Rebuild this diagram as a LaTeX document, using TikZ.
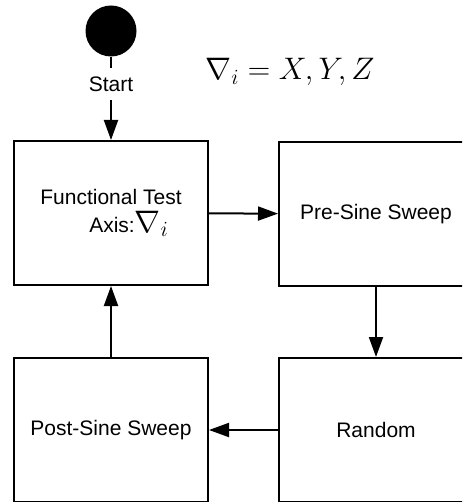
\documentclass[tikz,border=0pt]{standalone}
\usepackage{graphicx}
\usepackage{fontspec}
\setmainfont{Liberation Sans}
\usetikzlibrary{arrows.meta}

\begin{document}
\begin{tikzpicture}[x=1pt, y=-1pt, line width=2pt,
    stage/.style={draw, minimum width=194pt, minimum height=144pt, align=center,
      font=\fontsize{21}{26}\selectfont},
    flow/.style={-{Triangle[length=20pt,width=14pt]}}]
    \clip (0,0) rectangle (462,502);

    \node[circle, fill, minimum size=51pt, inner sep=0pt] (start) at (111,31) {};
    \node[font=\fontsize{21}{26}\selectfont, inner xsep=2pt, inner ysep=8pt] (startlab) at (111,84) {Start};
    \node[anchor=base, font=\fontsize{20.74}{25}\selectfont, scale=1.5] (axes) at (290,80) {$\nabla_i = X, Y, Z$};

    \node[stage] (func) at (111,213)
      {Functional Test\\[2pt]\hspace*{36pt}Axis:{\fontsize{20.74}{25}\selectfont\scalebox{1.5}{$\nabla_i$}}};
    \node[stage] (pre) at (376,214) {Pre-Sine Sweep};
    \node[stage] (rand) at (376,430) {Random};
    \node[stage] (post) at (111,430) {Post-Sine Sweep};

    \draw (start) -- (startlab);
    \draw[flow] (startlab) -- (func);
    \draw[flow] (func) -- (pre);
    \draw[flow] (pre) -- (rand);
    \draw[flow] (rand) -- (post);
    \draw[flow] (post) -- (func);
\end{tikzpicture}
\end{document}
